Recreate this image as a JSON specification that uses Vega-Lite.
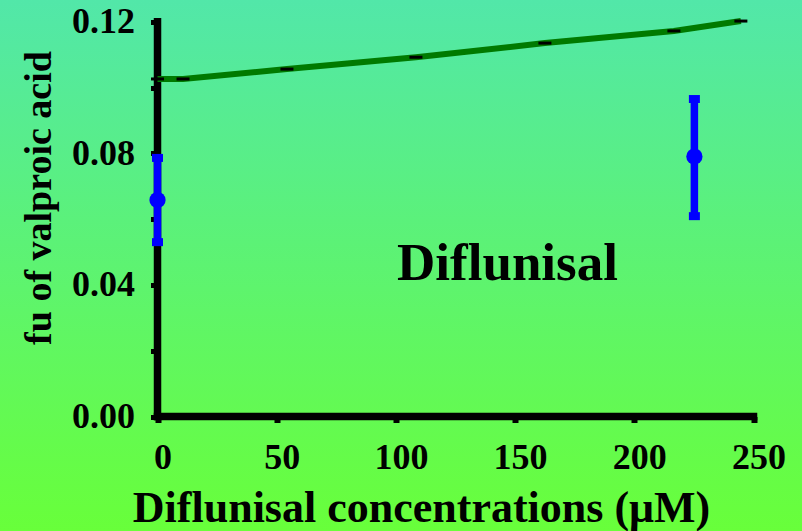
{
  "$schema": "https://vega.github.io/schema/vega-lite/v6.json",
  "width": 802,
  "height": 531,
  "autosize": {"type": "none"},
  "padding": 0,
  "background": "#5df272",
  "view": {
    "stroke": null,
    "fill": {"expr": "{gradient: 'linear', x1: 0, y1: 0, x2: 0, y2: 1, stops: [{offset: 0, color: '#52e7a9'}, {offset: 1, color: '#68ff3a'}]}"}
  },
  "config": {
    "font": "Liberation Serif",
    "axis": {"grid": false, "domain": false}
  },
  "datasets": {
    "fit": [
      {"conc": 0, "fu": 0.1026},
      {"conc": 10.7, "fu": 0.1026},
      {"conc": 54.3, "fu": 0.1056},
      {"conc": 108.4, "fu": 0.1092},
      {"conc": 162.5, "fu": 0.1135},
      {"conc": 216.6, "fu": 0.1172},
      {"conc": 244.7, "fu": 0.1202}
    ],
    "obs": [
      {"conc": 0, "fu": 0.0658, "lo": 0.053, "hi": 0.0786},
      {"conc": 225.2, "fu": 0.079, "lo": 0.0609, "hi": 0.0965}
    ],
    "note": [
      {"label": "Diflunisal"}
    ]
  },
  "encoding": {
    "x": {
      "type": "quantitative",
      "scale": {"domain": [-66.07, 270.34], "nice": false, "zero": false},
      "axis": {
        "orient": "bottom",
        "offset": -114.5,
        "values": [0, 50, 100, 150, 200, 250],
        "tickSize": 6,
        "tickWidth": 6,
        "tickColor": "black",
        "labelFont": "Liberation Serif",
        "labelFontWeight": "bold",
        "labelFontSize": 36,
        "labelColor": "black",
        "labelPadding": 18,
        "labelOffset": 5,
        "labelFlush": false,
        "labelOverlap": false,
        "title": "Diflunisal concentrations (μM)",
        "titleFont": "Liberation Serif",
        "titleFontWeight": "bold",
        "titleFontSize": 44,
        "titleColor": "black",
        "titleX": 421,
        "titleY": 105,
        "titleAlign": "center",
        "titleBaseline": "alphabetic"
      }
    },
    "y": {
      "type": "quantitative",
      "scale": {"domain": [-0.0348, 0.1266], "nice": false, "zero": false},
      "axis": {
        "orient": "left",
        "offset": -157.5,
        "values": [0, 0.02, 0.04, 0.06, 0.08, 0.1, 0.12],
        "labelExpr": "round(datum.value * 100) % 4 === 0 ? format(datum.value, '.2f') : ''",
        "tickSize": 7,
        "tickWidth": 5,
        "tickColor": "black",
        "labelFont": "Liberation Serif",
        "labelFontWeight": "bold",
        "labelFontSize": 36,
        "labelColor": "black",
        "labelPadding": 16,
        "labelBaseline": "middle",
        "labelFlush": false,
        "labelOverlap": false,
        "title": "fu of valproic acid",
        "titleFont": "Liberation Serif",
        "titleFontWeight": "bold",
        "titleFontSize": 38,
        "titleColor": "black",
        "titleX": -107.5,
        "titleY": 197.5,
        "titleAlign": "center",
        "titleBaseline": "alphabetic",
        "titleAngle": 270
      }
    }
  },
  "layer": [
    {
      "data": {"name": "note"},
      "mark": {"type": "rule", "color": "black", "strokeWidth": 7.5, "strokeCap": "square"},
      "encoding": {"x": {"datum": 0}, "y": {"datum": 0}, "y2": {"datum": 0.12}}
    },
    {
      "data": {"name": "note"},
      "mark": {"type": "rule", "color": "black", "strokeWidth": 7.5, "strokeCap": "square"},
      "encoding": {"y": {"datum": 0}, "x": {"datum": 0}, "x2": {"datum": 250}}
    },
    {
      "data": {"name": "fit"},
      "mark": {"type": "line", "color": "#007a00", "strokeWidth": 6},
      "encoding": {"x": {"field": "conc"}, "y": {"field": "fu"}}
    },
    {
      "data": {"name": "fit"},
      "mark": {"type": "tick", "orient": "horizontal", "color": "black", "size": 13, "thickness": 3, "opacity": 1},
      "encoding": {"x": {"field": "conc"}, "y": {"field": "fu"}}
    },
    {
      "data": {"name": "obs"},
      "mark": {"type": "rule", "color": "#0000ff", "strokeWidth": 7.5},
      "encoding": {"x": {"field": "conc"}, "y": {"field": "lo"}, "y2": {"field": "hi"}}
    },
    {
      "data": {"name": "obs"},
      "mark": {"type": "tick", "orient": "horizontal", "color": "#0000ff", "size": 11, "thickness": 8, "opacity": 1},
      "encoding": {"x": {"field": "conc"}, "y": {"field": "lo"}}
    },
    {
      "data": {"name": "obs"},
      "mark": {"type": "tick", "orient": "horizontal", "color": "#0000ff", "size": 11, "thickness": 8, "opacity": 1},
      "encoding": {"x": {"field": "conc"}, "y": {"field": "hi"}}
    },
    {
      "data": {"name": "obs"},
      "mark": {"type": "point", "shape": "circle", "filled": true, "color": "#0000ff", "size": 265, "opacity": 1},
      "encoding": {"x": {"field": "conc"}, "y": {"field": "fu"}}
    },
    {
      "data": {"name": "note"},
      "mark": {"type": "text", "font": "Liberation Serif", "fontWeight": "bold", "fontSize": 53, "color": "black", "align": "center", "baseline": "alphabetic"},
      "encoding": {"x": {"datum": 146.8}, "y": {"datum": 0.0415}, "text": {"field": "label"}}
    }
  ]
}
